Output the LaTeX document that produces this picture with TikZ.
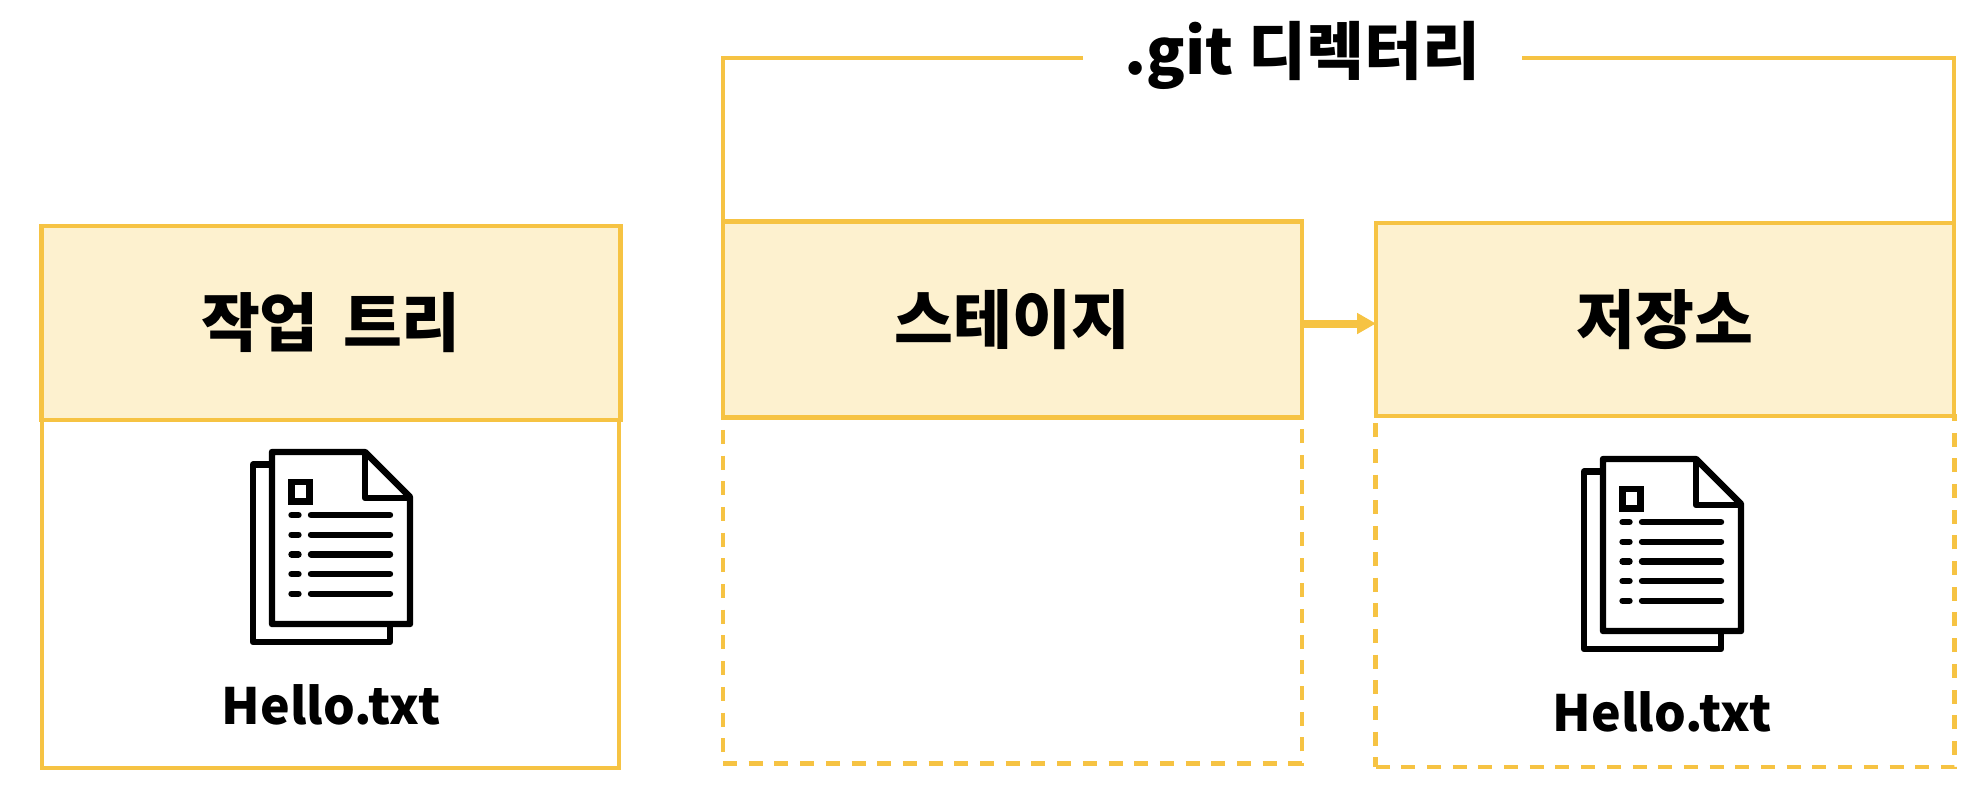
\documentclass[tikz,border=0pt]{standalone}
\usepackage{fontspec}
\setmainfont{Noto Sans CJK KR}
\usetikzlibrary{arrows.meta}
\definecolor{lineyellow}{HTML}{F6C343}
\definecolor{headyellow}{HTML}{FDF1CF}

\begin{document}
\begin{tikzpicture}[
    x=0.5pt, y=-0.5pt,
    head/.style={draw=lineyellow, fill=headyellow, line width=2.2pt, outer sep=0pt, minimum width=#1, minimum height=97pt, font=\fontsize{32}{36}\selectfont\bfseries, inner sep=0pt},
    solidbody/.style={draw=lineyellow, line width=2.2pt, outer sep=0pt, minimum width=289.5pt, minimum height=173pt, inner sep=0pt},
    dashbody/.style={solidbody, dash pattern=on 7pt off 5.85pt},
    filename/.style={font=\fontsize{25}{30}\selectfont\bfseries, inner sep=0pt},
    >={Triangle[length=9.5pt, width=10pt]},
    sheet/.pic={
        % 뒤쪽 종이
        \draw[line width=3.2pt, line join=round] (19,12.5) -- (0,12.5) -- (0,190) -- (137,190) -- (137,172);
        % 앞쪽 종이
        \draw[line width=3.2pt, line join=round] (19,0) -- (112,0) -- (157,45) -- (157,172) -- (19,172) -- cycle;
        \draw[line width=3.2pt, line join=round] (112,0) -- (112,46) -- (157,46);
        \draw[line width=3.2pt] (38.5,30) rectangle (56.5,49.5);
        % 목록 줄
        \foreach \row in {63,82.7,102.3,122,141.7} {
            \draw[line width=3.2pt, line cap=round] (38.5,\row) -- (45.5,\row);
            \draw[line width=3.2pt, line cap=round] (58,\row) -- (137,\row);
        }
    }
]
    \useasboundingbox (0,0) rectangle (1986,784);

    % 아래 칸
    \node[solidbody, minimum width=288.5pt, minimum height=174pt] (treebody) at (330.5,594) {};
    \node[dashbody] (stagebody) at (1012.5,590.5) {};
    \node[dashbody, minimum height=175.5pt] (repobody) at (1665,591.5) {};

    % 위 칸
    \node[head=289.5pt] (tree) at (331,323) {작업\hspace{0.15em} 트리};
    \node[head=289.5pt, minimum height=98pt] (stage) at (1012.5,319.5) {스테이지};
    \node[head=289pt, minimum height=96.5pt] (repo) at (1665,319.5) {저장소};

    % .git 디렉터리 제목
    \node[minimum width=219.5pt, minimum height=30pt, inner sep=0pt, outer sep=0pt, font=\fontsize{31.5}{36}\selectfont\bfseries] (gitdir) at (1302.5,55) {.git 디렉터리};
    \draw[draw=lineyellow, line width=2.2pt] (stage.north west) |- ([yshift=-1.5pt]gitdir.west);
    \draw[draw=lineyellow, line width=2.2pt] (repo.north east) |- ([yshift=-1.5pt]gitdir.east);

    % 화살표
    \draw[->, draw=lineyellow, fill=lineyellow, line width=4pt] ([yshift=-2pt]stage.east) -- ([yshift=-2pt]repo.west);

    % 파일 아이콘
    \pic (treeicon) at (253,452) {sheet};
    \pic (repoicon) at (1584,459) {sheet};
    \node[filename] (treefile) at (331,705) {Hello.txt};
    \node[filename] (repofile) at (1662,712) {Hello.txt};

\end{tikzpicture}
\end{document}
